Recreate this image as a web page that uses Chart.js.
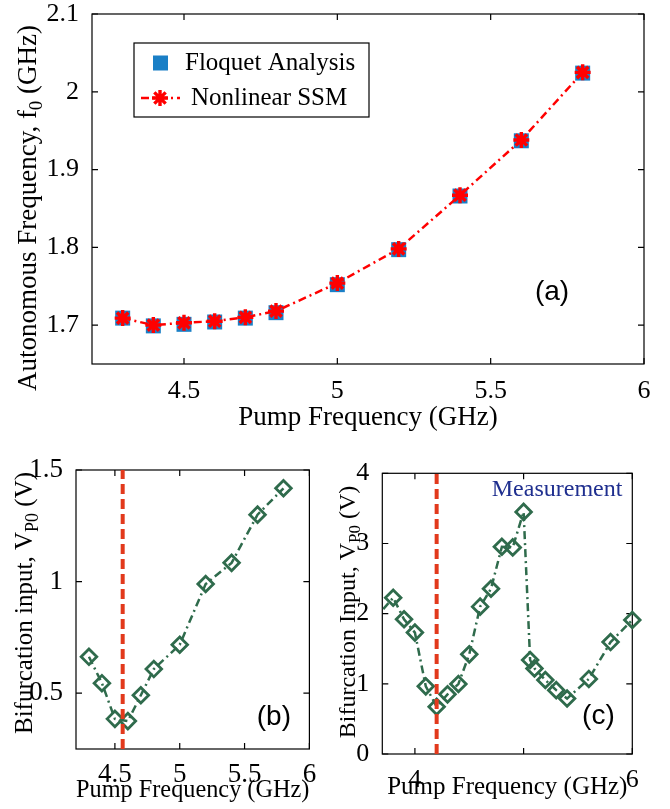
<!DOCTYPE html>
<html><head><meta charset="utf-8">
<script src="https://cdn.jsdelivr.net/npm/chart.js@4.4.1/dist/chart.umd.min.js"></script>
<style>
html,body{margin:0;padding:0;background:#fff;width:670px;height:809px;overflow:hidden;position:relative}
canvas{position:absolute}
</style></head>
<body>
<canvas id="ca" width="670" height="440" style="left:0;top:0"></canvas>
<canvas id="cb" width="320" height="369" style="left:0;top:440px"></canvas>
<canvas id="cc" width="350" height="369" style="left:320px;top:440px"></canvas>
<script>
// ---------- data ----------
// panel (a)
const pumpA    = [4.3, 4.4, 4.5, 4.6, 4.7, 4.8, 5.0, 5.2, 5.4, 5.6, 5.8];
const floquetA = [1.709, 1.699, 1.701, 1.704, 1.709, 1.716, 1.752, 1.797, 1.866, 1.937, 2.024];
const ssmA     = [1.709, 1.700, 1.703, 1.705, 1.710, 1.718, 1.754, 1.798, 1.867, 1.938, 2.025];
const xTicksA  = [4.5, 5, 5.5, 6];
const yTicksA  = [1.7, 1.8, 1.9, 2, 2.1];
// panel (b)
const pumpB    = [4.3, 4.4, 4.5, 4.6, 4.7, 4.8, 5.0, 5.2, 5.4, 5.6, 5.8];
const vp0B     = [0.663, 0.545, 0.385, 0.375, 0.491, 0.608, 0.717, 0.989, 1.084, 1.30, 1.418];
const cutoffB  = 4.56;
const xTicksB  = [4.5, 5, 5.5, 6];
const yTicksB  = [0.5, 1, 1.5];
// panel (c)
const pumpC    = [3.6, 3.8, 3.9, 4.0, 4.1, 4.2, 4.3, 4.4, 4.5, 4.6, 4.7, 4.8, 4.9, 5.0, 5.06, 5.1, 5.2, 5.3, 5.4, 5.6, 5.8, 6.0];
const vp0C     = [1.87, 2.227, 1.92, 1.73, 0.964, 0.674, 0.85, 0.997, 1.42, 2.10, 2.355, 2.953, 2.944, 3.45, 1.339, 1.22, 1.054, 0.91, 0.79, 1.07, 1.595, 1.91];
const cutoffC  = 4.2;
const xTicksC  = [4, 5, 6];
const yTicksC  = [0, 1, 2, 3, 4];

// ---------- styling ----------
const SERIF = "'Liberation Serif','Times New Roman',serif";
const SANS  = "'Liberation Sans',Arial,sans-serif";
const BLUE = '#1a7fc6', RED = '#ff0000', GREEN = '#2f6b4c', CUT = '#e2391c', NAVY = '#1f2f8f';
const DASHDOT = [8, 4, 2, 4];

Chart.defaults.font.family = SERIF;
Chart.defaults.color = '#000';
Chart.defaults.animation = false;
Chart.defaults.events = [];
Chart.defaults.plugins.legend.display = false;
Chart.defaults.plugins.tooltip.enabled = false;

const fmt = v => String(Math.round(v * 100) / 100);
const xy = (xs, ys) => xs.map((x, i) => ({x, y: ys[i]}));

function scales(c) {
  return {
    x: {
      type: 'linear', min: c.xMin, max: c.xMax,
      afterBuildTicks: s => { s.ticks = c.xTicks.map(v => ({value: v})); },
      afterFit: s => { s.height = c.xH; s.paddingLeft = 0; s.paddingRight = 0; },
      grid: {display: false}, border: {display: false},
      ticks: {font: {size: c.tick}, padding: c.xPad, maxRotation: 0, autoSkip: false,
              callback: v => (c.hideX && c.hideX.includes(v)) ? '' : fmt(v)},
      title: {display: true, text: 'Pump Frequency (GHz)', font: {size: c.xt}, padding: {top: 0, bottom: c.xtPad}}
    },
    y: {
      type: 'linear', min: c.yMin, max: c.yMax,
      afterBuildTicks: s => { s.ticks = c.yTicks.map(v => ({value: v})); },
      afterFit: s => { s.width = c.yW; s.paddingTop = 0; s.paddingBottom = 0; },
      grid: {display: false}, border: {display: false},
      ticks: {font: {size: c.tick}, padding: 5, autoSkip: false, callback: v => fmt(v)}
    }
  };
}

// frame: box, inward ticks, rotated y title with subscript, annotations, legend
const frame = {
  id: 'frame',
  beforeDatasetsDraw(chart, args, o) {
    const {ctx, chartArea: a, scales: {x, y}} = chart;
    ctx.save();
    ctx.strokeStyle = '#000'; ctx.lineWidth = 1.2; ctx.setLineDash([]);
    ctx.strokeRect(a.left, a.top, a.right - a.left, a.bottom - a.top);
    const T = 6;
    ctx.beginPath();
    x.ticks.forEach(t => { const p = x.getPixelForValue(t.value);
      ctx.moveTo(p, a.bottom); ctx.lineTo(p, a.bottom - T);
      ctx.moveTo(p, a.top); ctx.lineTo(p, a.top + T); });
    y.ticks.forEach(t => { const p = y.getPixelForValue(t.value);
      ctx.moveTo(a.left, p); ctx.lineTo(a.left + T, p);
      ctx.moveTo(a.right, p); ctx.lineTo(a.right - T, p); });
    ctx.stroke();
    ctx.restore();
  },
  afterDatasetsDraw(chart, args, o) {
    const {ctx, chartArea: a, scales: {x, y}} = chart;
    ctx.save();
    // y title
    if (o.ytitle) {
      const t = o.ytitle, fs = t.size;
      ctx.translate(t.cx, t.cy);
      ctx.rotate(-Math.PI / 2);
      const big = fs + 'px ' + SERIF, small = Math.round(fs * 0.72) + 'px ' + SERIF;
      ctx.font = big; const w1 = ctx.measureText(t.main).width, w3 = ctx.measureText(t.rest).width;
      ctx.font = small; const w2 = ctx.measureText(t.sub).width;
      let sx = -(w1 + w2 + w3) / 2;
      const base = fs * 0.33;
      ctx.fillStyle = '#000'; ctx.textBaseline = 'alphabetic'; ctx.textAlign = 'left';
      ctx.font = big; ctx.fillText(t.main, sx, base); sx += w1;
      ctx.font = small; ctx.fillText(t.sub, sx, base + fs * 0.22); sx += w2;
      ctx.font = big; ctx.fillText(t.rest, sx, base);
      ctx.setTransform(1, 0, 0, 1, 0, 0);
    }
    // text annotations in data coordinates
    (o.texts || []).forEach(t => {
      ctx.font = t.font; ctx.fillStyle = t.color; ctx.textAlign = 'center'; ctx.textBaseline = 'middle';
      ctx.fillText(t.text, x.getPixelForValue(t.x), y.getPixelForValue(t.y));
    });
    // legend
    if (o.legend) {
      const L = {x: a.left + 42, y: a.top + 29, w: 235, h: 74};
      ctx.fillStyle = '#fff'; ctx.fillRect(L.x, L.y, L.w, L.h);
      ctx.strokeStyle = '#000'; ctx.lineWidth = 1.2; ctx.setLineDash([]);
      ctx.strokeRect(L.x, L.y, L.w, L.h);
      ctx.fillStyle = BLUE; ctx.fillRect(L.x + 19, L.y + 12.5, 15, 15);
      ctx.strokeStyle = RED; ctx.lineWidth = 2.5; ctx.setLineDash(DASHDOT);
      ctx.beginPath(); ctx.moveTo(L.x + 7, L.y + 55); ctx.lineTo(L.x + 46, L.y + 55); ctx.stroke();
      ctx.setLineDash([]); ctx.lineWidth = 3.4;
      const cx = L.x + 26, cy = L.y + 55, r = 8;
      ctx.beginPath();
      ctx.moveTo(cx - r, cy); ctx.lineTo(cx + r, cy);
      ctx.moveTo(cx, cy - r); ctx.lineTo(cx, cy + r);
      const d = r * Math.SQRT1_2;
      ctx.moveTo(cx - d, cy - d); ctx.lineTo(cx + d, cy + d);
      ctx.moveTo(cx - d, cy + d); ctx.lineTo(cx + d, cy - d);
      ctx.stroke();
      ctx.fillStyle = '#000'; ctx.font = '25px ' + SERIF; ctx.textAlign = 'left'; ctx.textBaseline = 'middle';
      ctx.fillText('Floquet Analysis', L.x + 51, L.y + 20);
      ctx.fillText('Nonlinear SSM', L.x + 57, L.y + 55);
    }
    ctx.restore();
  }
};

// ---------- panel (a) ----------
new Chart(document.getElementById('ca'), {
  type: 'line',
  data: {datasets: [
    {label: 'Nonlinear SSM', data: xy(pumpA, ssmA), order: 0, borderColor: RED, borderWidth: 2.5,
     borderDash: DASHDOT, pointStyle: 'star', pointRadius: 8, pointBorderWidth: 3.4,
     pointBorderColor: RED, pointBackgroundColor: RED, fill: false, tension: 0},
    {label: 'Floquet Analysis', data: xy(pumpA, floquetA), order: 1, showLine: false,
     pointStyle: 'rect', pointRadius: 10.6, pointBorderWidth: 0, pointBackgroundColor: BLUE, pointBorderColor: BLUE}
  ]},
  options: {
    responsive: false, devicePixelRatio: 1,
    layout: {padding: {left: 0, top: 14, right: 26, bottom: 0}},
    scales: scales({xMin: 4.2, xMax: 6, yMin: 1.65, yMax: 2.1, xTicks: xTicksA, yTicks: yTicksA,
                    xH: 76, yW: 92, tick: 26, xPad: 4, xt: 27, xtPad: 6}),
    plugins: {frame: {
      ytitle: {cx: 27, cy: 208, size: 27, main: 'Autonomous Frequency, f', sub: '0', rest: ' (GHz)'},
      texts: [{text: '(a)', x: 5.7, y: 1.7416, font: '28px ' + SANS, color: '#000'}],
      legend: true
    }}
  },
  plugins: [frame]
});

// ---------- panel (b) ----------
new Chart(document.getElementById('cb'), {
  type: 'line',
  data: {datasets: [
    {label: 'cutoff', data: [{x: cutoffB, y: 0.25}, {x: cutoffB, y: 1.5}], borderColor: CUT, borderWidth: 4,
     borderDash: [10, 5], pointRadius: 0, fill: false},
    {label: 'V_P0', data: xy(pumpB, vp0B), borderColor: GREEN, borderWidth: 2.5, borderDash: DASHDOT,
     pointStyle: 'rectRot', pointRadius: 7.8, pointBorderWidth: 2.8, pointBorderColor: GREEN,
     pointBackgroundColor: 'rgba(255,255,255,0)', fill: false, tension: 0}
  ]},
  options: {
    responsive: false, devicePixelRatio: 1,
    layout: {padding: {left: 0, top: 30, right: 3.3, bottom: 0}},
    scales: scales({xMin: 4.2, xMax: 6, yMin: 0.25, yMax: 1.5, xTicks: xTicksB, yTicks: yTicksB,
                    xH: 60, yW: 76, tick: 27, xPad: 2, xt: 25, xtPad: 4}),
    plugins: {frame: {
      ytitle: {cx: 24, cy: 163, size: 25, main: 'Bifurcation input, V', sub: 'P0', rest: ' (V)'},
      texts: [{text: '(b)', x: 5.726, y: 0.394, font: '28px ' + SANS, color: '#000'}]
    }}
  },
  plugins: [frame]
});

// ---------- panel (c) ----------
new Chart(document.getElementById('cc'), {
  type: 'line',
  data: {datasets: [
    {label: 'cutoff', data: [{x: cutoffC, y: 0}, {x: cutoffC, y: 4}], borderColor: CUT, borderWidth: 4,
     borderDash: [10, 5], pointRadius: 0, fill: false},
    {label: 'Measurement', data: xy(pumpC, vp0C), borderColor: GREEN, borderWidth: 2.5, borderDash: DASHDOT,
     pointStyle: 'rectRot', pointRadius: 7.8, pointBorderWidth: 2.8, pointBorderColor: GREEN,
     pointBackgroundColor: 'rgba(255,255,255,0)', fill: false, tension: 0,
     clip: {left: 0, top: 20, right: 20, bottom: 20}}
  ]},
  options: {
    responsive: false, devicePixelRatio: 1,
    layout: {padding: {left: 0, top: 33.3, right: 37.7, bottom: 0}},
    scales: scales({xMin: 3.7, xMax: 6, yMin: 0, yMax: 4, xTicks: xTicksC, yTicks: yTicksC, hideX: [5],
                    xH: 55, yW: 62.3, tick: 26, xPad: 3, xt: 25, xtPad: 7}),
    plugins: {frame: {
      ytitle: {cx: 27, cy: 172, size: 24, main: 'Bifurcation Input, V', sub: 'P0', rest: ' (V)'},
      texts: [
        {text: '(c)', x: 5.688, y: 0.541, font: '28px ' + SANS, color: '#000'},
        {text: 'Measurement', x: 5.308, y: 3.76, font: '24px ' + SERIF, color: NAVY}
      ]
    }}
  },
  plugins: [frame]
});
</script>
</body></html>
